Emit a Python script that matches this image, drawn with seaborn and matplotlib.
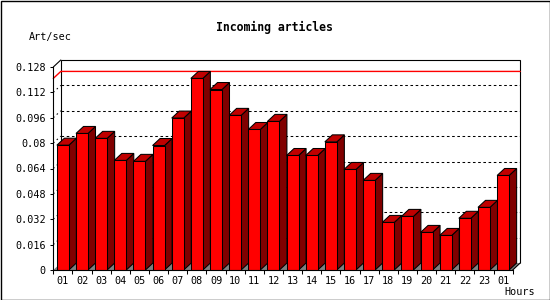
import numpy as np
import pandas as pd
import matplotlib
matplotlib.use("Agg")
import matplotlib.pyplot as plt
from matplotlib.patches import Polygon, Rectangle
from matplotlib.ticker import FixedLocator
import seaborn as sns

# ---- data ----
hour_labels = ["01", "02", "03", "04", "05", "06", "07", "08", "09", "10", "11", "12",
               "13", "14", "15", "16", "17", "18", "19", "20", "21", "22", "23", "01"]
art_per_sec = [0.0787, 0.0861, 0.0830, 0.0691, 0.0685, 0.0785, 0.0958, 0.1208,
               0.1138, 0.0975, 0.0886, 0.0937, 0.0722, 0.0722, 0.0808, 0.0634,
               0.0565, 0.0300, 0.0338, 0.0237, 0.0218, 0.0326, 0.0395, 0.0596]
y_ticks = [0, 0.016, 0.032, 0.048, 0.064, 0.08, 0.096, 0.112, 0.128]
y_tick_labels = ["0", "0.016", "0.032", "0.048", "0.064", "0.08", "0.096", "0.112", "0.128"]
title = "Incoming articles"
y_label = "Art/sec"
x_label = "Hours"

df = pd.DataFrame({"slot": list(range(len(art_per_sec))), "value": art_per_sec})

sns.set_theme(style="white")
plt.rcParams["font.family"] = ["DejaVu Sans Mono"]

W, H = 550, 300
fig = plt.figure(figsize=(W / 100, H / 100), dpi=100)
fig.patch.set_facecolor("white")

x0_px, x1_px = 53.3, 512.7
y0_px, y1_px = 270.0, 67.0
ax = fig.add_axes([x0_px / W, (H - y0_px) / H, (x1_px - x0_px) / W, (y0_px - y1_px) / H])
ax.set_facecolor("none")

n = len(art_per_sec)
bar_w = 12 / ((x1_px - x0_px) / n)
sns.barplot(data=df, x="slot", y="value", order=list(range(n)), color="#ff0000",
            saturation=1, width=bar_w, edgecolor="black", linewidth=0.75, ax=ax, zorder=5)

ax.set_xlim(-0.5, n - 0.5)
ax.set_ylim(0, y_ticks[-1])

# pixel -> data scale for depth offset
sx = (x1_px - x0_px) / n
sy = (y0_px - y1_px) / y_ticks[-1]
DX, DY = 7.5 / sx, 7.0 / sy
xl, xr = -0.5, n - 0.5
ytop = y_ticks[-1]

# back wall
ax.add_patch(Polygon([(xl + DX, DY), (xl + DX, ytop + DY), (xr + DX, ytop + DY), (xr + DX, DY)],
                     closed=False, facecolor="white", edgecolor="black", linewidth=0.8,
                     clip_on=False, zorder=1))
# top-left and bottom-right diagonals
ax.plot([xl, xl + DX], [ytop, ytop + DY], color="black", lw=0.8, clip_on=False, zorder=1.2)
ax.plot([xr, xr + DX], [0, DY], color="black", lw=0.8, clip_on=False, zorder=1.2)

# floor
ax.add_patch(Polygon([(xl, 0), (xr, 0), (xr + DX, DY), (xl + DX, DY)], closed=True,
                     facecolor="#808080", edgecolor="none", clip_on=False, zorder=1.1))

# dotted grid on back wall
for yv in y_ticks[1:-1]:
    ax.plot([xl + DX, xr + DX], [yv + DY, yv + DY], color="black", lw=0.75,
            linestyle=(0, (2.5, 2.5)), clip_on=False, zorder=1.3)
    ax.plot([xl, xl + DX], [yv, yv + DY], color="black", lw=0.75,
            linestyle=(0, (1.5, 3)), clip_on=False, zorder=1.3)

# red max line
vmax = max(art_per_sec)
ax.plot([xl, xl + DX, xr + DX], [vmax, vmax + DY, vmax + DY], color="#ff0000", lw=1.0,
        clip_on=False, zorder=1.4)

# 3D sides and tops
for p in list(ax.patches):
    if not isinstance(p, Rectangle) or p.get_zorder() != 5:
        continue
    bx, bw, bh = p.get_x(), p.get_width(), p.get_height()
    side = Polygon([(bx + bw, 0), (bx + bw + DX, DY), (bx + bw + DX, bh + DY), (bx + bw, bh)],
                   closed=True, facecolor="#800000", edgecolor="black", linewidth=0.75,
                   clip_on=False, zorder=4)
    top = Polygon([(bx, bh), (bx + DX, bh + DY), (bx + bw + DX, bh + DY), (bx + bw, bh)],
                  closed=True, facecolor="#c00000", edgecolor="black", linewidth=0.75,
                  clip_on=False, zorder=4)
    ax.add_patch(side)
    ax.add_patch(top)

# spines
for s in ["top", "right"]:
    ax.spines[s].set_visible(False)
for s in ["left", "bottom"]:
    ax.spines[s].set_color("black")
    ax.spines[s].set_linewidth(0.8)
    ax.spines[s].set_zorder(6)

ax.set_yticks(y_ticks)
ax.set_yticklabels(y_tick_labels, fontsize=7.3, color="black")
ax.tick_params(axis="y", which="major", direction="out", length=2.5, width=0.75,
               pad=3, color="black", left=True)
ax.set_xticks(range(n))
ax.set_xticklabels(hour_labels, fontsize=7.3, color="black")
ax.xaxis.set_minor_locator(FixedLocator(np.arange(-0.5, n, 1.0)))
ax.tick_params(axis="x", which="major", length=0, pad=4)
ax.tick_params(axis="x", which="minor", direction="out", length=3.2, width=0.75,
               color="black", bottom=True)
ax.set_xlabel("")
ax.set_ylabel("")

fig.text(274 / W, 1 - 27 / H, title, ha="center", va="center", fontsize=8.3,
         fontweight="bold", color="black")
fig.text(50.5 / W, 1 - 37 / H, y_label, ha="center", va="center", fontsize=7.3, color="black")
fig.text(519.5 / W, 1 - 292 / H, x_label, ha="center", va="center", fontsize=7.3, color="black")

# outer border
fig.add_artist(Rectangle((0.5 / W, 0.5 / H), (W - 1) / W, (H - 1) / H, transform=fig.transFigure,
                         fill=False, edgecolor="black", linewidth=1.0))

fig.savefig("out.png", dpi=100)
